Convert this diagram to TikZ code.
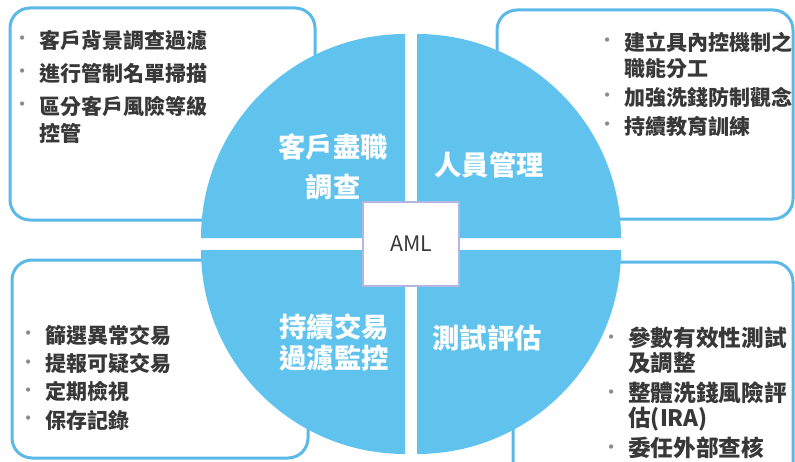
\documentclass[tikz,border=0pt]{standalone}
\usepackage{fontspec}
\setmainfont{Noto Sans CJK TC}
\newfontfamily\dotfont{DejaVu Sans}
\definecolor{amlblue}{HTML}{5FC3EE}
\definecolor{frameblue}{HTML}{5AB9E6}
\definecolor{textgray}{HTML}{383838}
\definecolor{dotgray}{HTML}{8A8A8A}
\definecolor{amlframe}{HTML}{B4B6E2}
\newcommand{\dotmark}{\raisebox{4pt}{\textcolor{dotgray}{\dotfont\fontsize{9}{9}\selectfont •}}\hspace{10pt}}
\newcommand{\nodot}{\phantom{\dotmark}}

\begin{document}
\begin{tikzpicture}[x=0.75pt,y=0.75pt]
\tikzstyle{infobox}=[draw=frameblue,line width=2.25pt,rounded corners=15pt,fill=white]
\tikzstyle{itemlist}=[inner sep=0pt,anchor=north west,align=left,text=textgray]
\tikzstyle{quarter}=[fill=amlblue]
\tikzstyle{topic}=[text=white,inner sep=0pt,align=center,font=\bfseries\fontsize{20.5}{23.25}\selectfont]
\useasboundingbox (0,0) rectangle (795,461);
\clip (0,0) rectangle (795,461);
\draw[infobox] (10,241) rectangle (315,453);
\draw[infobox] (497,242) rectangle (793,451);
\draw[infobox] (12,3) rectangle (308,201);
\draw[infobox] (513,-30) rectangle (793,199);
\node[itemlist,font=\bfseries\fontsize{15.75}{20.25}\selectfont] (dueitems) at (18,431.5)
  {\dotmark 客戶背景調查過濾\\[4.5pt]
   \dotmark 進行管制名單掃描\\[4.5pt]
   \dotmark 區分客戶風險等級\\
   \nodot 控管};
\node[itemlist,font=\bfseries\fontsize{15.75}{19.5}\selectfont] (staffitems) at (603,429.5)
  {\dotmark 建立具內控機制之\\
   \nodot 職能分工\\[2.25pt]
   \dotmark 加強洗錢防制觀念\\[2.25pt]
   \dotmark 持續教育訓練};
\node[itemlist,font=\bfseries\fontsize{15.75}{21.25}\selectfont] (monitoritems) at (24,136.5)
  {\dotmark 篩選異常交易\\
   \dotmark 提報可疑交易\\
   \dotmark 定期檢視\\
   \dotmark 保存記錄};
\node[itemlist,font=\bfseries\fontsize{17}{18.75}\selectfont] (testitems) at (607,134.3)
  {\dotmark 參數有效性測試\\
   \nodot 及調整\\[3.75pt]
   \dotmark 整體洗錢風險評\\
   \nodot 估(IRA)\\[3.75pt]
   \dotmark 委任外部查核};
\fill[quarter] (417,223) -- ++(204,0) arc[start angle=0,end angle=90,radius=204] -- cycle;
\fill[quarter] (405,223) -- ++(-204,0) arc[start angle=180,end angle=90,radius=204] -- cycle;
\fill[quarter] (405,211) -- ++(-204,0) arc[start angle=180,end angle=270,radius=204] -- cycle;
\fill[quarter] (417,211) -- ++(204,0) arc[start angle=0,end angle=-90,radius=204] -- cycle;
\node[topic,font=\bfseries\fontsize{20.5}{30}\selectfont] (cdd) at (333,294) {客戶盡職\\調查};
\node[topic] (staff) at (489,296) {人員管理};
\node[topic] (monitor) at (334,118.5) {持續交易\\過濾監控};
\node[topic] (testing) at (487,123) {測試評估};
\node[draw=amlframe,line width=1.1pt,fill=white,minimum width=72pt,minimum height=63pt,
  text=textgray,font=\fontsize{16}{19}\selectfont] (aml) at (411,217) {AML};
\end{tikzpicture}
\end{document}
